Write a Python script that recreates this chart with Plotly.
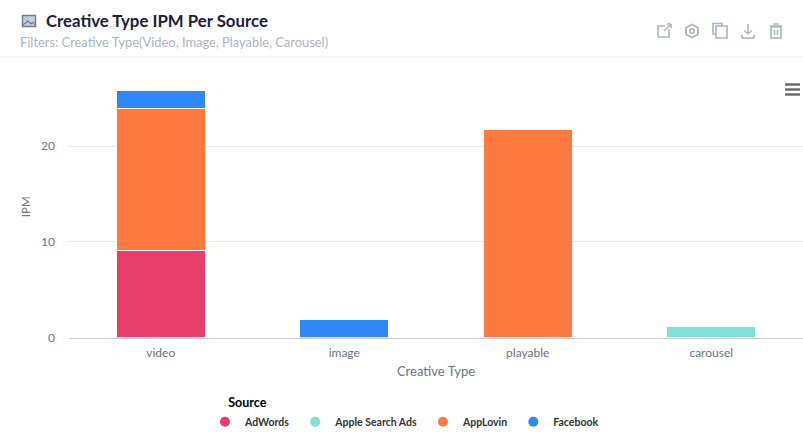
import plotly.graph_objects as go

W, H = 803, 438
categories = ["video", "image", "playable", "carousel"]
sources = ["AdWords", "Apple Search Ads", "AppLovin", "Facebook"]
adwords = [9.1, None, None, None]
apple = [None, None, None, 1.2]
applovin = [14.85, None, 21.7, None]
facebook = [1.85, 1.85, None, None]
series = [adwords, apple, applovin, facebook]
colors = ["#E83E6B", "#7DE2D5", "#FF7A40", "#2F88F5"]
FONT = "Lato"


def X(v):
    return v / W


def Y(v):
    return 1 - v / H


fig = go.Figure()
for name, vals, col in zip(sources, series, colors):
    fig.add_trace(go.Bar(x=categories, y=vals, name=name, width=0.483, showlegend=False,
                         marker=dict(color=col, line=dict(color="white", width=1))))
    fig.add_trace(go.Scatter(x=[None], y=[None], name=name, mode="markers",
                             marker=dict(color=col, size=10, symbol="circle")))

shapes = []


def line(x0, y0, x1, y1, color="#A9B5CB", width=1.6):
    shapes.append(dict(type="line", xref="paper", yref="paper", x0=X(x0), y0=Y(y0), x1=X(x1), y1=Y(y1),
                       line=dict(color=color, width=width)))


def rect(x0, y0, x1, y1, color="#A9B5CB", width=1.6, fill="rgba(0,0,0,0)"):
    shapes.append(dict(type="rect", xref="paper", yref="paper", x0=X(x0), y0=Y(y0), x1=X(x1), y1=Y(y1),
                       line=dict(color=color, width=width), fillcolor=fill))


def circle(x0, y0, x1, y1, color="#A9B5CB", width=1.6, fill="rgba(0,0,0,0)"):
    shapes.append(dict(type="circle", xref="paper", yref="paper", x0=X(x0), y0=Y(y0), x1=X(x1), y1=Y(y1),
                       line=dict(color=color, width=width), fillcolor=fill))


def poly(points, color="#A9B5CB", width=1.6):
    d = "M " + " L ".join(f"{X(a):.5f},{Y(b):.5f}" for a, b in points) + " Z"
    shapes.append(dict(type="path", xref="paper", yref="paper", path=d, line=dict(color=color, width=width)))


# header rule
line(0, 57, W, 57, "#E8EAF0", 1)
# image icon
rect(22.5, 15.5, 35.5, 26.5, "#6E7C96", 1.4, "#C9D0DD")
circle(25, 17.5, 27.5, 20, "#6E7C96", 0.5, "#F4F5F8")
line(23, 25, 28, 21, "#6E7C96", 1.2)
line(28, 21, 31, 24, "#6E7C96", 1.2)
line(31, 24, 33, 22, "#6E7C96", 1.2)
line(33, 22, 35, 25, "#6E7C96", 1.2)
# open icon
rect(658, 26, 669, 37)
rect(665, 23, 672, 29, "white", 0, "white")
line(664, 31, 671, 24)
line(667, 24, 671, 24)
line(671, 24, 671, 28)
# gear icon
poly([(692, 24.5), (698, 27.8), (698, 34.2), (692, 37.5), (686, 34.2), (686, 27.8)], width=1.8)
circle(689.7, 28.7, 694.3, 33.3, "#A9B5CB", 1.5)
# copy icon
rect(713, 23.5, 722, 34)
rect(716, 26, 727, 38, "#A9B5CB", 1.6, "white")
# download icon
line(748, 24, 748, 34)
line(744, 30.5, 748, 34)
line(752, 30.5, 748, 34)
line(742, 35, 742, 38)
line(742, 38, 754, 38)
line(754, 35, 754, 38)
# trash icon
rect(771, 27, 781, 38)
line(769.5, 26, 782.5, 26)
line(773.5, 24, 778.5, 24)
line(774.5, 30, 774.5, 35)
line(777.5, 30, 777.5, 35)
# hamburger menu
line(785, 84.5, 800, 84.5, "#666666", 2.4)
line(785, 89.5, 800, 89.5, "#666666", 2.4)
line(785, 94.5, 800, 94.5, "#666666", 2.4)

annotations = [
    dict(text="<b>Creative Type IPM Per Source</b>", x=X(44), y=Y(21), xref="paper", yref="paper",
         xanchor="left", yanchor="middle", showarrow=False,
         font=dict(family=FONT, size=16.8, color="#1B2138")),
    dict(text="Filters: Creative Type(Video, Image, Playable, Carousel)", x=X(18), y=Y(42), xref="paper", yref="paper",
         xanchor="left", yanchor="middle", showarrow=False,
         font=dict(family=FONT, size=12.9, color="#AAB4CA")),
]

fig.update_layout(
    width=W, height=H, barmode="stack", autosize=False,
    margin=dict(l=0, r=0, t=0, b=0),
    paper_bgcolor="white", plot_bgcolor="white",
    font=dict(family=FONT, size=12, color="#6B7280"),
    shapes=shapes, annotations=annotations,
    xaxis=dict(domain=[69 / W, 1], title=dict(text="Creative Type", standoff=7, font=dict(size=13, color="#6B7280")),
               showgrid=False, showline=True, linecolor="#CCCCCC", linewidth=1, ticks="", tickfont=dict(size=12, color="#6B7280"),
               categoryorder="array", categoryarray=categories, automargin=False, ticklabelstandoff=4),
    yaxis=dict(domain=[1 - 337.5 / H, 1 - 76 / H], range=[0, 27.31], dtick=10,
               title=dict(text="IPM", standoff=8, font=dict(size=11.5, color="#6B7280")),
               showgrid=True, gridcolor="#E8E8E8", zeroline=False, ticks="", tickfont=dict(size=12, color="#6B7280"), automargin=False, ticklabelstandoff=13),
    legend=dict(orientation="h", x=X(205), y=Y(437), xanchor="left", yanchor="bottom", traceorder="normal",
                title=dict(text="<b>&nbsp;&nbsp;&nbsp;&nbsp;&nbsp;&nbsp;&nbsp;Source</b>", side="top", font=dict(size=12.5, color="#000000")),
                font=dict(size=10.5, color="#333333", weight="bold"), itemwidth=30, bgcolor="rgba(0,0,0,0)"),
)
fig.write_html("out.html", post_script="document.body.style.margin='0';", config=dict(displayModeBar=False))
